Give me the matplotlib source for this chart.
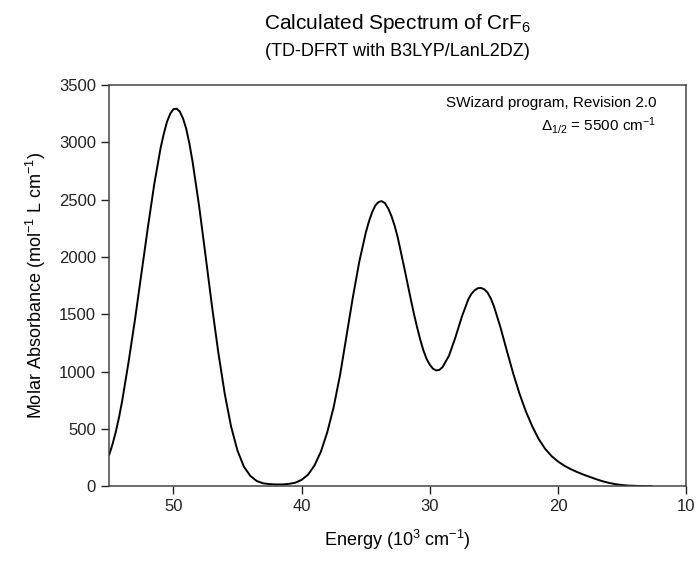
import numpy as np
from matplotlib import pyplot as plt

plt.rcParams['font.family'] = ['Liberation Sans', 'DejaVu Sans']
plt.rcParams['mathtext.fontset'] = 'custom'
plt.rcParams['mathtext.rm'] = 'Liberation Sans'
plt.rcParams['mathtext.it'] = 'Liberation Sans:italic'

# Spectrum (energy in 10^3 cm^-1, molar absorbance)
energy = [55.0, 54.75, 54.5, 54.25, 54.0, 53.5, 53.0, 52.5, 52.0, 51.5,
          51.0, 50.75, 50.5, 50.25, 50.0, 49.75, 49.5, 49.25, 49.0, 48.75,
          48.5, 48.0, 47.5, 47.0, 46.5, 46.0, 45.5, 45.0, 44.5, 44.0,
          43.5, 43.0, 42.5, 42.0, 41.5, 41.0, 40.5, 40.0, 39.5, 39.0,
          38.5, 38.0, 37.5, 37.0, 36.5, 36.0, 35.5, 35.0, 34.75, 34.5,
          34.25, 34.0, 33.75, 33.5, 33.25, 33.0, 32.75, 32.5, 32.0, 31.5,
          31.25, 31.0, 30.75, 30.5, 30.25, 30.0, 29.75, 29.5, 29.25, 29.0,
          28.5, 28.0, 27.5, 27.0, 26.75, 26.5, 26.25, 26.0, 25.75, 25.5,
          25.25, 25.0, 24.5, 24.0, 23.5, 23.0, 22.5, 22.0, 21.5, 21.0,
          20.5, 20.0, 19.5, 19.0, 18.5, 18.0, 17.5, 17.0, 16.5, 16.0,
          15.5, 15.0, 14.5, 14.0, 13.5, 13.0, 12.7]
absorbance = [275, 365, 470, 595, 740, 1080, 1450, 1850, 2250, 2630,
              2950, 3075, 3180, 3250, 3290, 3295, 3270, 3210, 3120, 2990,
              2830, 2450, 2020, 1580, 1170, 810, 520, 310, 170, 90,
              45, 25, 18, 15, 15, 20, 30, 55, 100, 180,
              300, 470, 690, 970, 1310, 1650, 1960, 2210, 2310, 2390,
              2450, 2480, 2488, 2470, 2425, 2360, 2275, 2170, 1910, 1640,
              1510, 1390, 1280, 1185, 1110, 1060, 1025, 1010, 1015, 1040,
              1140, 1300, 1480, 1630, 1680, 1710, 1728, 1730, 1718, 1690,
              1640, 1570, 1390, 1185, 985, 805, 650, 520, 410, 325,
              262, 215, 178, 148, 123, 100, 80, 60, 42, 28,
              17, 10, 5, 3, 1, 0, 0]

xticks = [50, 40, 30, 20, 10]
yticks = [0, 500, 1000, 1500, 2000, 2500, 3000, 3500]

fig = plt.figure(figsize=(6.96, 5.64), dpi=100)
ax = fig.add_axes([0.157, 0.138, 0.829, 0.711])

ax.plot(energy, absorbance, color='black', lw=1.4)

ax.set_xlim(55, 10)
ax.set_ylim(0, 3500)
ax.set_xticks(xticks)
ax.set_yticks(yticks)
ax.tick_params(direction='out', length=6, width=1, labelsize=12, colors='#222222')
for s in ax.spines.values():
    s.set_color('#444444')
    s.set_linewidth(1.1)

ax.set_xlabel('Energy (10$^3$ cm$^{-1}$)', fontsize=13, labelpad=10)
ax.set_ylabel('Molar Absorbance (mol$^{-1}$ L cm$^{-1}$)', fontsize=13, labelpad=8)

fig.text(0.571, 0.958, 'Calculated Spectrum of CrF$_6$', ha='center', va='center', fontsize=15)
fig.text(0.571, 0.908, '(TD-DFRT with B3LYP/LanL2DZ)', ha='center', va='center', fontsize=13)

ax.text(0.948, 0.955, 'SWizard program, Revision 2.0', transform=ax.transAxes,
        ha='right', va='center', fontsize=11)
ax.text(0.948, 0.9, r'$\Delta_{1/2}$ = 5500 cm$^{-1}$', transform=ax.transAxes,
        ha='right', va='center', fontsize=11)

plt.savefig('out.png', dpi=100)
